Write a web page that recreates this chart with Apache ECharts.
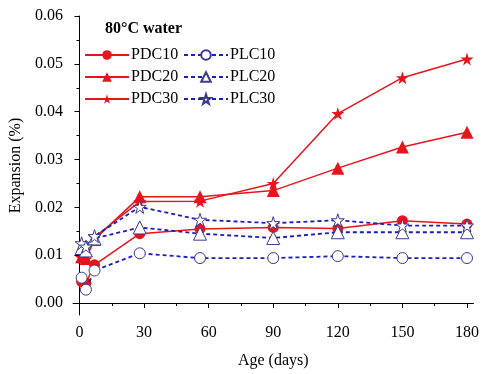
<!DOCTYPE html>
<html>
<head>
<meta charset="utf-8">
<script src="https://cdn.jsdelivr.net/npm/echarts@6/dist/echarts.min.js"></script>
<style>
  body { margin: 0; background: #fff; }
  #chart { width: 482px; height: 374px; }
</style>
</head>
<body>
<div id="chart"></div>
<script>
// age in days
var days = [1, 3, 7, 28, 56, 90, 120, 150, 180];
var PDC10 = [0.0045, 0.0042, 0.0080, 0.0145, 0.0155, 0.0158, 0.0156, 0.0172, 0.0165];
var PLC10 = [0.0053, 0.0028, 0.0068, 0.0104, 0.0094, 0.0094, 0.0098, 0.0094, 0.0094];
var PDC20 = [0.0097, 0.0093, 0.0133, 0.0222, 0.0222, 0.0235, 0.0282, 0.0326, 0.0357];
var PLC20 = [0.0115, 0.0110, 0.0135, 0.0158, 0.0145, 0.0136, 0.0148, 0.0148, 0.0148];
var PDC30 = [0.0095, 0.0092, 0.0138, 0.0212, 0.0213, 0.0250, 0.0396, 0.0471, 0.0510];
var PLC30 = [0.0125, 0.0118, 0.0140, 0.0201, 0.0174, 0.0167, 0.0173, 0.0162, 0.0162];

var xTicks = [0, 30, 60, 90, 120, 150, 180];
var xMinor = [15, 45, 75, 105, 135, 165];
var yTicks = [0, 0.01, 0.02, 0.03, 0.04, 0.05, 0.06];
var yMinor = [0.005, 0.015, 0.025, 0.035, 0.045, 0.055];

var RED = '#e8141c';
var BLUE = '#1c1cc4';
var NAVY = '#3a3a90';
var FONT = 'Liberation Serif';
var STAR = 'path://M50,0 L61,35 L98,35 L68,57 L79,91 L50,70 L21,91 L32,57 L2,35 L39,35 Z';

function pairs(ys) {
	var out = [];
	for(var i = 0; i < days.length; i++) {
		out.push([days[i], ys[i]]);
	}
	return out;
}

function pdc(name, ys, symbol, size) {
	return {
		name: name,
		type: 'line',
		data: pairs(ys),
		symbol: symbol,
		symbolSize: size,
		lineStyle: { color: RED, width: 1.5 },
		itemStyle: { color: RED, borderColor: RED, borderWidth: 0 },
		z: 3
	};
}

function plc(name, ys, symbol, size) {
	return {
		name: name,
		type: 'line',
		data: pairs(ys),
		symbol: symbol,
		symbolSize: size,
		lineStyle: { color: BLUE, width: 1.8, type: [4, 3] },
		itemStyle: { color: '#fff', borderColor: NAVY, borderWidth: 1 },
		z: 4
	};
}

function legendCol(names, left) {
	return {
		data: names,
		orient: 'vertical',
		left: left,
		top: 42,
		itemWidth: 44,
		itemHeight: 12,
		itemGap: 6,
		textStyle: { fontFamily: FONT, fontSize: 16, color: '#000', padding: [0, 0, 0, -3] }
	};
}

var chart = echarts.init(document.getElementById('chart'));
chart.setOption({
	animation: false,
	title: {
		text: '80°C water',
		left: 100,
		top: 16,
		textStyle: { fontFamily: FONT, fontSize: 16, fontWeight: 'bold', color: '#000' }
	},
	legend: [
		legendCol(['PDC10', 'PDC20', 'PDC30'], 79),
		legendCol(['PLC10', 'PLC20', 'PLC30'], 178)
	],
	grid: { left: 73, right: 6, top: 16, bottom: 58 },
	xAxis: [{
		type: 'value',
		min: -3,
		max: 183,
		name: 'Age (days)',
		nameLocation: 'middle',
		nameGap: 38,
		nameTextStyle: { fontFamily: FONT, fontSize: 16, color: '#000' },
		splitLine: { show: false },
		axisLine: { lineStyle: { color: '#000', width: 1 } },
		axisTick: { customValues: xTicks, length: 5, lineStyle: { color: '#000' } },
		axisLabel: { customValues: xTicks, fontFamily: FONT, fontSize: 16, color: '#000', margin: 10 }
	}, {
		type: 'value',
		min: -3,
		max: 183,
		position: 'bottom',
		splitLine: { show: false },
		axisLine: { show: false },
		axisTick: { customValues: xMinor, length: 3, lineStyle: { color: '#000' } },
		axisLabel: { show: false }
	}],
	yAxis: [{
		type: 'value',
		min: -0.0025,
		max: 0.06,
		name: 'Expansion (%)',
		nameLocation: 'middle',
		nameGap: 46,
		nameTextStyle: { fontFamily: FONT, fontSize: 16, color: '#000' },
		splitLine: { show: false },
		axisLine: { show: true, lineStyle: { color: '#000', width: 1 } },
		axisTick: { show: true, customValues: yTicks, length: 5, lineStyle: { color: '#000' } },
		axisLabel: {
			customValues: yTicks,
			fontFamily: FONT, fontSize: 16, color: '#000', margin: 10,
			formatter: function(v) { return v.toFixed(2); }
		}
	}, {
		type: 'value',
		min: -0.0025,
		max: 0.06,
		position: 'left',
		splitLine: { show: false },
		axisLine: { show: false },
		axisTick: { show: true, customValues: yMinor, length: 3, lineStyle: { color: '#000' } },
		axisLabel: { show: false }
	}],
	series: [
		pdc('PDC10', PDC10, 'circle', 11),
		plc('PLC10', PLC10, 'circle', 11),
		pdc('PDC20', PDC20, 'triangle', 13),
		plc('PLC20', PLC20, 'triangle', 13),
		pdc('PDC30', PDC30, STAR, 13),
		plc('PLC30', PLC30, STAR, 13)
	]
});
</script>
</body>
</html>
